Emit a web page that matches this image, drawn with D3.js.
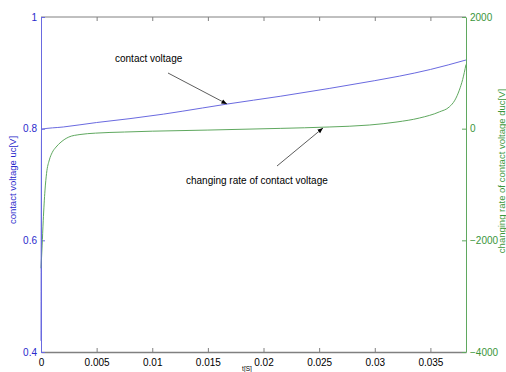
<!DOCTYPE html>
<html>
<head>
<meta charset="utf-8">
<script src="https://cdn.jsdelivr.net/npm/d3@7"></script>
<style>
  html, body { margin: 0; padding: 0; background: #fff; }
  svg { display: block; font-family: "Liberation Sans", Arial, sans-serif; }
</style>
</head>
<body>
<svg id="chart" width="506" height="372"></svg>
<script>
// contact voltage uc (left axis)
const tVoltage = [0, 0.00005, 0.002, 0.005, 0.008, 0.011, 0.0145, 0.0167, 0.0215, 0.0259, 0.03, 0.0322, 0.035, 0.0382];
const voltage = [0.42, 0.799, 0.803, 0.811, 0.818, 0.826, 0.837, 0.844, 0.858, 0.872, 0.886, 0.894, 0.906, 0.923];

// changing rate duc (right axis)
const tRate = [0, 0.0001, 0.0002, 0.00036, 0.0005, 0.00075, 0.001, 0.00135, 0.0018, 0.0025, 0.0035, 0.0049, 0.0075, 0.01, 0.015, 0.0215, 0.0259, 0.0295, 0.032, 0.034, 0.0358, 0.0367, 0.0372, 0.0376, 0.0379, 0.0382];
const rate = [-2500, -2100, -1650, -1100, -800, -560, -430, -330, -240, -150, -105, -80, -60, -45, -25, 5, 30, 65, 120, 190, 300, 390, 510, 690, 880, 1150];

const xTicks = [0, 0.005, 0.01, 0.015, 0.02, 0.025, 0.03, 0.035];
const leftTicks = [0.4, 0.6, 0.8, 1];
const rightTicks = [-4000, -2000, 0, 2000];

const notes = [
  { text: "contact voltage", tx: 115, ty: 62, from: [168, 73], to: [227, 104] },
  { text: "changing rate of contact voltage", tx: 186, ty: 184, from: [277, 166], to: [323, 128] }
];

const blue = "#6a6ae0", blueText = "#2a2acc";
const green = "#5fa85f", greenText = "#3a963a";

const m = { left: 41, right: 466, top: 17, bottom: 352 };
const svg = d3.select("#chart");

const x = d3.scaleLinear().domain([0, 0.0382]).range([m.left, m.right]);
const yL = d3.scaleLinear().domain([0.4, 1]).range([m.bottom, m.top]);
const yR = d3.scaleLinear().domain([-4000, 2000]).range([m.bottom, m.top]);

// frame top
svg.append("line").attr("x1", m.left).attr("x2", m.right).attr("y1", m.top).attr("y2", m.top)
  .attr("stroke", "#808080").attr("stroke-width", 1);

// x axis bottom
const xAxis = svg.append("g").attr("transform", `translate(0,${m.bottom})`)
  .call(d3.axisBottom(x).tickValues(xTicks).tickFormat(d3.format("")).tickSizeInner(-4).tickSizeOuter(0).tickPadding(7));
xAxis.select(".domain").attr("stroke", "#808080").attr("stroke-width", 1.6);
xAxis.selectAll(".tick line").attr("stroke", "#808080");
xAxis.selectAll("text").attr("font-size", 10).attr("fill", "#000");

// x ticks top
svg.append("g").attr("transform", `translate(0,${m.top})`)
  .call(d3.axisTop(x).tickValues(xTicks.slice(1)).tickSizeInner(-4).tickSizeOuter(0).tickFormat(""))
  .call(g => g.select(".domain").remove())
  .call(g => g.selectAll(".tick line").attr("stroke", "#808080"));

// left axis
const lAxis = svg.append("g").attr("transform", `translate(${m.left},0)`)
  .call(d3.axisLeft(yL).tickValues(leftTicks).tickFormat(d3.format("")).tickSizeInner(-4).tickSizeOuter(0).tickPadding(4));
lAxis.select(".domain").attr("stroke", blue);
lAxis.selectAll(".tick line").attr("stroke", blue);
lAxis.selectAll("text").attr("font-size", 10).attr("fill", blueText);

// right axis
const rAxis = svg.append("g").attr("transform", `translate(${m.right},0)`)
  .call(d3.axisRight(yR).tickValues(rightTicks).tickFormat(d3.format("")).tickSizeInner(-4).tickSizeOuter(0).tickPadding(4));
rAxis.select(".domain").attr("stroke", green);
rAxis.selectAll(".tick line").attr("stroke", green);
rAxis.selectAll("text").attr("font-size", 10).attr("fill", greenText);

// series
const lineV = d3.line().x((d, i) => x(tVoltage[i])).y(d => yL(d)).curve(d3.curveMonotoneX);
const lineR = d3.line().x((d, i) => x(tRate[i])).y(d => yR(d)).curve(d3.curveMonotoneX);

svg.append("path").datum(rate).attr("d", lineR)
  .attr("fill", "none").attr("stroke", green).attr("stroke-width", 1);
svg.append("path").datum(voltage).attr("d", lineV)
  .attr("fill", "none").attr("stroke", blue).attr("stroke-width", 1);

// axis titles
svg.append("text").attr("transform", "translate(16,180) rotate(-90)")
  .attr("text-anchor", "middle").attr("font-size", 9.5).attr("fill", blueText)
  .text("contact voltage uc[V]");
svg.append("text").attr("transform", "translate(505,171) rotate(-90)")
  .attr("text-anchor", "middle").attr("font-size", 9.5).attr("fill", greenText)
  .text("changing rate of contact voltage duc[V]");
svg.append("text").attr("x", 247).attr("y", 371).attr("text-anchor", "middle")
  .attr("font-size", 6.5).attr("fill", "#000").text("t[S]");

// annotations
svg.append("defs").append("marker").attr("id", "ah")
  .attr("viewBox", "0 0 10 10").attr("refX", 10).attr("refY", 5)
  .attr("markerWidth", 7).attr("markerHeight", 7).attr("orient", "auto")
  .append("path").attr("d", "M0,1 L10,5 L0,9 Z").attr("fill", "#000");

notes.forEach(n => {
  svg.append("line").attr("x1", n.from[0]).attr("y1", n.from[1]).attr("x2", n.to[0]).attr("y2", n.to[1])
    .attr("stroke", "#333").attr("stroke-width", 0.8).attr("marker-end", "url(#ah)");
  svg.append("text").attr("x", n.tx).attr("y", n.ty).attr("font-size", 10).attr("fill", "#000").text(n.text);
});
</script>
</body>
</html>
